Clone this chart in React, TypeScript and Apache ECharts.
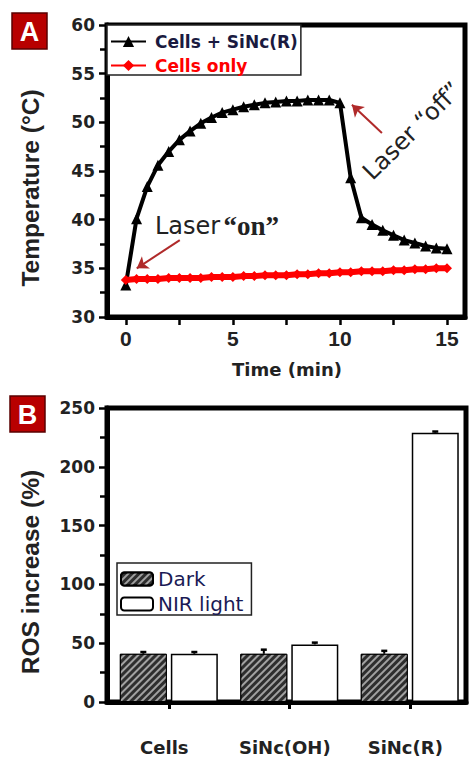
import React, { useEffect, useRef } from 'react';
import * as echarts from 'echarts';

// ---- Panel A data ----
const timeMin = [0, 0.5, 1, 1.5, 2, 2.5, 3, 3.5, 4, 4.5, 5, 5.5, 6, 6.5, 7, 7.5, 8, 8.5, 9, 9.5, 10, 10.5, 11, 11.5, 12, 12.5, 13, 13.5, 14, 14.5, 15];
const cellsSiNcR = [33.3, 40.1, 43.4, 45.6, 47.0, 48.2, 49.1, 49.9, 50.5, 51.0, 51.3, 51.6, 51.8, 52.0, 52.1, 52.2, 52.2, 52.3, 52.3, 52.3, 52.0, 44.3, 40.2, 39.5, 38.9, 38.4, 37.9, 37.6, 37.3, 37.1, 37.0];
const cellsOnly = [33.8, 33.9, 33.9, 33.9, 34.0, 34.0, 34.0, 34.0, 34.1, 34.1, 34.1, 34.2, 34.2, 34.3, 34.3, 34.3, 34.4, 34.4, 34.5, 34.5, 34.6, 34.6, 34.7, 34.7, 34.7, 34.8, 34.8, 34.9, 34.9, 35.0, 35.0];
const timeTickLabels = [0, 5, 10, 15];
const timeTicks = [0, 2.5, 5, 7.5, 10, 12.5, 15];
const laserOnArrow = [[2.52, 37.9], [0.51, 35.0]];
const laserOffArrow = [[11.96, 48.9], [10.56, 51.8]];

// ---- Panel B data ----
const rosCategories = ['Cells', 'SiNc(OH)', 'SiNc(R)'];
const rosDark = [41, 41, 41];
const rosDarkErr = [1.5, 3.5, 2.5];
const rosNIR = [41, 49, 229];
const rosNIRErr = [1.5, 1.5, 1.0];

const BAR_W = 47;
const BAR_GAP_PX = 4;

export default function App() {
  const ref = useRef<HTMLDivElement>(null);
  useEffect(() => {
    const chart = echarts.init(ref.current!, null, { renderer: 'svg' });
    const sans = 'DejaVu Sans';
    const arial = 'Liberation Sans';
    const axisLineStyle = { color: '#000', width: 5 };
    const tickStyle = { color: '#000', width: 2.5 };

    const errData: number[][] = [];
    rosCategories.forEach((_, i) => {
      errData.push([i, rosDark[i], rosDarkErr[i], -1]);
      errData.push([i, rosNIR[i], rosNIRErr[i], 1]);
    });

    const option: any = {
      animation: false,
      backgroundColor: '#fff',
      grid: [
        { left: 107, top: 25, width: 358, height: 292, show: true, borderColor: '#000', borderWidth: 5, backgroundColor: '#fff' },
        { left: 107, top: 408, width: 359, height: 294, show: true, borderColor: '#000', borderWidth: 5, backgroundColor: '#fff' },
        { left: 108.6, top: 408, width: 362.4, height: 294, show: false },
      ],
      xAxis: [
        {
          gridIndex: 0, type: 'value', min: -0.88, max: 15.84,
          axisLine: { show: true, onZero: false, lineStyle: axisLineStyle },
          axisTick: { show: true, customValues: timeTicks, length: 8, lineStyle: tickStyle },
          axisLabel: { customValues: timeTickLabels, margin: 11, fontFamily: arial, fontWeight: 'bold', fontSize: 21, color: '#222' },
          splitLine: { show: false },
        },
        {
          gridIndex: 1, type: 'value', min: 0, max: 1,
          axisLine: { show: true, onZero: false, lineStyle: axisLineStyle },
          axisTick: { show: false }, axisLabel: { show: false }, splitLine: { show: false },
        },
        {
          gridIndex: 2, type: 'category', data: rosCategories,
          axisLine: { show: false },
          axisTick: { show: true, alignWithLabel: true, length: 7, lineStyle: { color: '#000', width: 3 } },
          axisLabel: { margin: 36, fontFamily: sans, fontWeight: 'bold', fontSize: 18, color: '#222', padding: [0, 9, 0, 0] },
          splitLine: { show: false },
        },
      ],
      yAxis: [
        {
          gridIndex: 0, type: 'value', min: 30, max: 60, interval: 5,
          axisLine: { show: true, onZero: false, lineStyle: axisLineStyle },
          axisTick: { show: true, length: 8, lineStyle: tickStyle },
          minorTick: { show: true, splitNumber: 2, length: 7, lineStyle: tickStyle },
          axisLabel: { margin: 12, fontFamily: sans, fontWeight: 'bold', fontSize: 17, color: '#222' },
          splitLine: { show: false },
        },
        {
          gridIndex: 1, type: 'value', min: 0, max: 250, interval: 50,
          axisLine: { show: true, onZero: false, lineStyle: axisLineStyle },
          axisTick: { show: true, length: 8, lineStyle: tickStyle },
          minorTick: { show: true, splitNumber: 2, length: 7, lineStyle: tickStyle },
          axisLabel: { margin: 12, fontFamily: sans, fontWeight: 'bold', fontSize: 17, color: '#222' },
          splitLine: { show: false },
        },
        { gridIndex: 2, type: 'value', min: 0, max: 250, show: false },
      ],
      legend: [
        {
          data: [
            { name: 'Cells + SiNc(R)', textStyle: { color: '#1a1a40' } },
            { name: 'Cells only', textStyle: { color: '#ff0000' } },
          ],
          left: 107, top: 25, orient: 'vertical',
          itemWidth: 35, itemHeight: 14, itemGap: 7,
          padding: [8, 3, 1, 3],
          borderColor: '#222', borderWidth: 1.5, backgroundColor: '#fff',
          selectedMode: false,
          textStyle: { fontFamily: sans, fontWeight: 'bold', fontSize: 17, padding: [0, 0, 0, 4] },
        },
        {
          data: ['Dark', 'NIR light'],
          left: 117, top: 563, orient: 'vertical',
          itemWidth: 32, itemHeight: 13, itemGap: 5,
          padding: [6, 8, 1, 3],
          borderColor: '#222', borderWidth: 1.5, backgroundColor: '#fff',
          selectedMode: false,
          textStyle: { fontFamily: sans, fontSize: 20, color: '#1a1a55' },
        },
      ],
      series: [
        {
          name: 'Cells + SiNc(R)', type: 'line', xAxisIndex: 0, yAxisIndex: 0,
          data: timeMin.map((t, i) => [t, cellsSiNcR[i]]),
          symbol: 'triangle', symbolSize: 11,
          lineStyle: { color: '#000', width: 4 }, itemStyle: { color: '#000' },
          markLine: {
            silent: true, symbol: ['none', 'arrow'], symbolSize: 11,
            label: { show: false },
            lineStyle: { color: '#b02a2a', width: 2, type: 'solid' },
            data: [
              [{ coord: laserOnArrow[0] }, { coord: laserOnArrow[1] }],
              [{ coord: laserOffArrow[0] }, { coord: laserOffArrow[1] }],
            ],
          },
        },
        {
          name: 'Cells only', type: 'line', xAxisIndex: 0, yAxisIndex: 0,
          data: timeMin.map((t, i) => [t, cellsOnly[i]]),
          symbol: 'diamond', symbolSize: 10,
          lineStyle: { color: '#ff0000', width: 6 }, itemStyle: { color: '#ff0000' },
        },
        {
          name: 'Dark', type: 'bar', xAxisIndex: 2, yAxisIndex: 2,
          data: rosDark, barWidth: BAR_W, barGap: (BAR_GAP_PX / BAR_W * 100).toFixed(1) + '%',
          itemStyle: {
            color: '#2e2e2e', borderColor: '#000', borderWidth: 1,
            decal: { symbol: 'rect', symbolSize: 1, color: 'rgba(255,255,255,0.55)', dashArrayX: [1, 0], dashArrayY: [2, 3], rotation: -Math.PI / 4 },
          },
        },
        {
          name: 'NIR light', type: 'bar', xAxisIndex: 2, yAxisIndex: 2,
          data: rosNIR, barWidth: BAR_W,
          itemStyle: { color: '#fff', borderColor: '#000', borderWidth: 1.5 },
        },
        {
          name: 'err', type: 'custom', xAxisIndex: 2, yAxisIndex: 2, z: 10,
          data: errData,
          renderItem: (params: any, api: any) => {
            const cat = api.value(0), val = api.value(1), err = api.value(2), side = api.value(3);
            const top = api.coord([cat, val]);
            const up = api.coord([cat, val + err]);
            const x = top[0] + side * (BAR_W + BAR_GAP_PX) / 2;
            return {
              type: 'group',
              children: [
                { type: 'line', shape: { x1: x, y1: top[1], x2: x, y2: up[1] }, style: { stroke: '#000', lineWidth: 2 } },
                { type: 'line', shape: { x1: x - 3, y1: up[1], x2: x + 3, y2: up[1] }, style: { stroke: '#000', lineWidth: 2.5 } },
              ],
            };
          },
        },
      ],
      graphic: [
        { type: 'rect', shape: { x: 12, y: 13, width: 35, height: 36 }, style: { fill: '#b80000', stroke: '#5a0000', lineWidth: 1.5 } },
        { type: 'text', x: 29.5, y: 31.5, style: { text: 'A', fontFamily: arial, fontWeight: 'bold', fontSize: 27, fill: '#fff', align: 'center', verticalAlign: 'middle' } },
        { type: 'rect', shape: { x: 10, y: 396, width: 35, height: 36 }, style: { fill: '#b80000', stroke: '#5a0000', lineWidth: 1.5 } },
        { type: 'text', x: 27.5, y: 414.5, style: { text: 'B', fontFamily: arial, fontWeight: 'bold', fontSize: 27, fill: '#fff', align: 'center', verticalAlign: 'middle' } },
        { type: 'text', x: 30, y: 188, rotation: Math.PI / 2, style: { text: 'Temperature (°C)', fontFamily: arial, fontWeight: 'bold', fontSize: 24.5, fill: '#222', align: 'center', verticalAlign: 'middle' } },
        { type: 'text', x: 30, y: 572, rotation: Math.PI / 2, style: { text: 'ROS increase (%)', fontFamily: arial, fontWeight: 'bold', fontSize: 24.5, fill: '#222', align: 'center', verticalAlign: 'middle' } },
        { type: 'text', x: 287, y: 369, style: { text: 'Time (min)', fontFamily: sans, fontWeight: 'bold', fontSize: 18, fill: '#222', align: 'center', verticalAlign: 'middle' } },
        {
          type: 'text', x: 155, y: 226,
          style: {
            text: '{a|Laser} {b|“on”}', verticalAlign: 'middle',
            rich: {
              a: { fontFamily: sans, fontSize: 24, fill: '#222' },
              b: { fontFamily: 'Liberation Serif', fontWeight: 'bold', fontSize: 27, fill: '#222' },
            },
          },
        },
        { type: 'text', x: 412, y: 131, rotation: 0.78, style: { text: 'Laser “off”', fontFamily: sans, fontSize: 24, fill: '#222', align: 'center', verticalAlign: 'middle' } },
      ],
    };
    chart.setOption(option);
    return () => chart.dispose();
  }, []);
  return <div ref={ref} style={{ position: 'fixed', left: 0, top: 0, width: 470, height: 757, background: '#fff' }} />;
}
